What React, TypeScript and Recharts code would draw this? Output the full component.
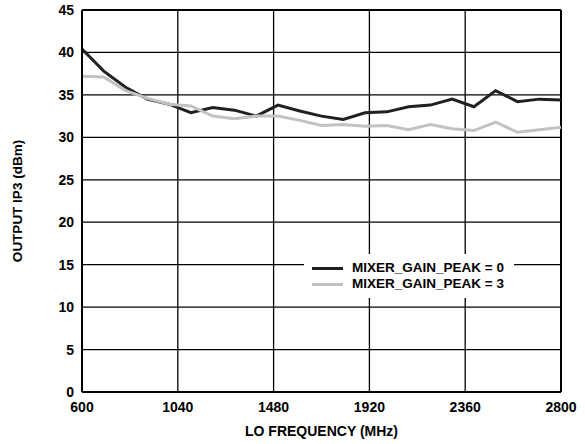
import {
  CartesianGrid,
  Label,
  Line,
  LineChart,
  ReferenceLine,
  XAxis,
  YAxis,
} from "recharts";

const frequencies = [
  600, 700, 800, 900, 1000, 1100, 1200, 1300, 1400, 1500, 1600, 1700, 1800,
  1900, 2000, 2100, 2200, 2300, 2400, 2500, 2600, 2700, 2800,
];
const gainPeak0 = [
  40.4, 37.8, 35.9, 34.5, 33.9, 32.9, 33.5, 33.2, 32.5, 33.8, 33.1, 32.5, 32.1,
  32.9, 33.0, 33.6, 33.8, 34.5, 33.6, 35.5, 34.2, 34.5, 34.4,
];
const gainPeak3 = [
  37.2, 37.1, 35.5, 34.6, 33.9, 33.7, 32.5, 32.2, 32.5, 32.5, 32.0, 31.4, 31.5,
  31.3, 31.4, 30.9, 31.5, 31.0, 30.8, 31.8, 30.6, 30.9, 31.2,
];
const xTicks = [600, 1040, 1480, 1920, 2360, 2800];
const yTicks = [0, 5, 10, 15, 20, 25, 30, 35, 40, 45];

const series = [
  { key: "g0", name: "MIXER_GAIN_PEAK = 0", color: "#231f20" },
  { key: "g3", name: "MIXER_GAIN_PEAK = 3", color: "#c2c2c2" },
];

const data = frequencies.map((f, i) => ({
  freq: f,
  g0: gainPeak0[i],
  g3: gainPeak3[i],
}));

const font = "'Liberation Sans', Arial, sans-serif";
const tickStyle = { fill: "#000", fontSize: 14, fontWeight: 700, fontFamily: font };

function LegendBox() {
  return (
    <div
      style={{
        position: "absolute",
        left: 304,
        top: 254,
        background: "#fff",
        padding: "6px 10px 6px 8px",
        fontFamily: font,
        fontWeight: 700,
        fontSize: 13.5,
        lineHeight: "16px",
        color: "#000",
      }}
    >
      {series.map((s) => (
        <div key={s.key} style={{ display: "flex", alignItems: "center" }}>
          <span
            style={{
              display: "inline-block",
              width: 31,
              height: 3,
              background: s.color,
              marginRight: 9,
            }}
          />
          {s.name}
        </div>
      ))}
    </div>
  );
}

export default function App() {
  return (
    <div style={{ position: "fixed", left: 0, top: 0, background: "#fff" }}>
      <LineChart
        width={585}
        height={444}
        data={data}
        margin={{ top: 10, right: 24, bottom: 0, left: 0 }}
      >
        <CartesianGrid stroke="#000" strokeWidth={1.3} />
        <XAxis
          dataKey="freq"
          type="number"
          domain={[600, 2800]}
          ticks={xTicks}
          tick={tickStyle}
          tickLine={false}
          tickMargin={4}
          axisLine={{ stroke: "#000", strokeWidth: 2 }}
          height={52}
          interval={0}
        >
          <Label
            value="LO FREQUENCY (MHz)"
            position="insideBottom"
            offset={8}
            style={tickStyle}
          />
        </XAxis>
        <YAxis
          type="number"
          domain={[0, 45]}
          ticks={yTicks}
          tick={tickStyle}
          tickLine={false}
          axisLine={{ stroke: "#000", strokeWidth: 2 }}
          width={82}
          interval={0}
        >
          <Label
            value="OUTPUT IP3 (dBm)"
            angle={-90}
            position="insideLeft"
            offset={17}
            style={{ ...tickStyle, fontSize: 13.5, textAnchor: "middle" }}
          />
        </YAxis>
        <ReferenceLine y={45} stroke="#000" strokeWidth={2} />
        <ReferenceLine x={2800} stroke="#000" strokeWidth={2} />
        {series.map((s) => (
          <Line
            key={s.key}
            dataKey={s.key}
            name={s.name}
            stroke={s.color}
            strokeWidth={3}
            dot={false}
            isAnimationActive={false}
          />
        ))}
      </LineChart>
      <LegendBox />
    </div>
  );
}
